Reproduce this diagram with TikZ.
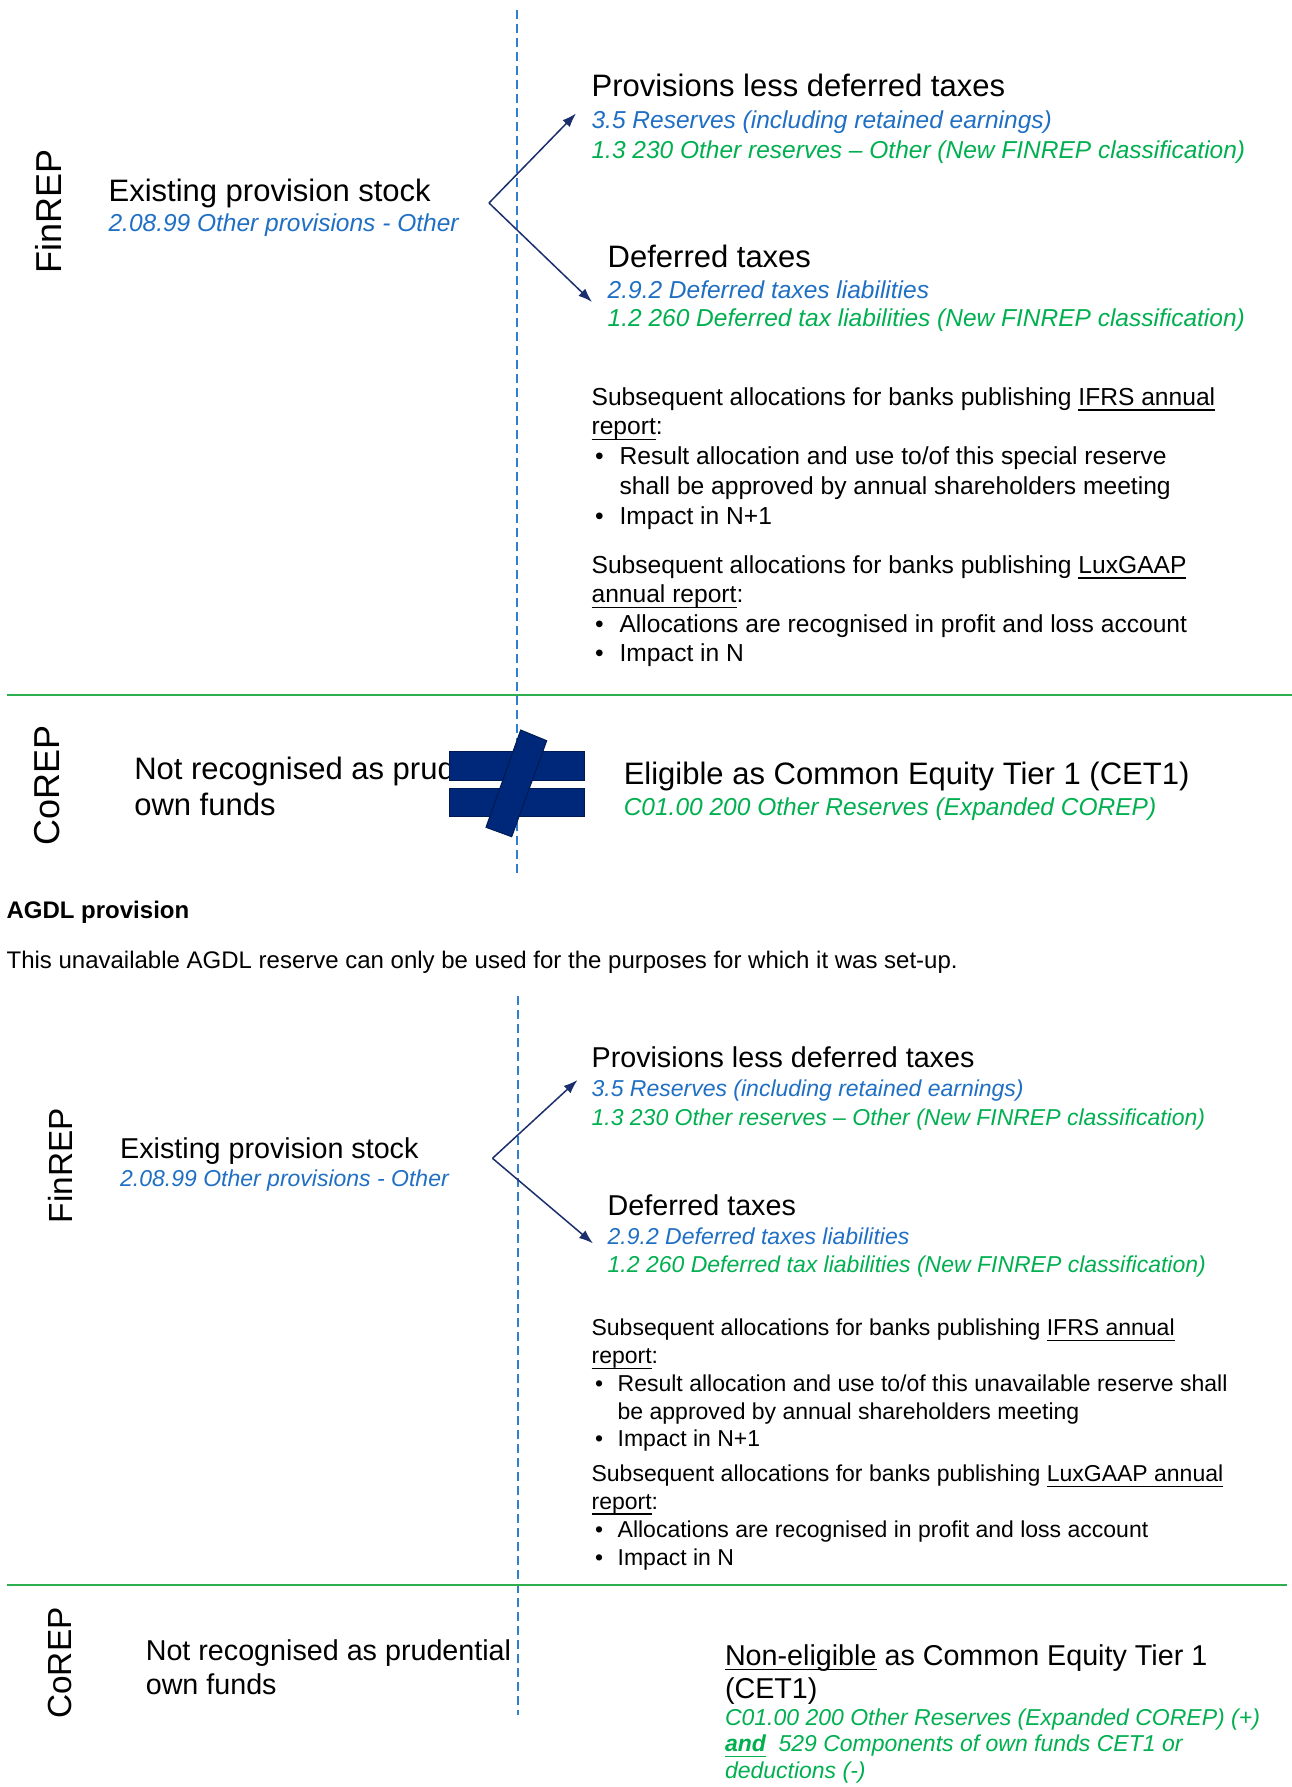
\documentclass[tikz,border=0pt]{standalone}
\usepackage{fontspec}
\setmainfont{Liberation Sans}
\usetikzlibrary{arrows.meta}
\definecolor{cblue}{HTML}{1F6FC4}
\definecolor{cgreen}{HTML}{00B050}
\definecolor{cline}{HTML}{2EAE4E}
\definecolor{cdash}{HTML}{2F7ED0}
\definecolor{carrow}{HTML}{1B2F6E}
\definecolor{cneq}{HTML}{00287A}
\definecolor{cneqb}{HTML}{001A52}
\newsavebox{\ulbox}
\newcommand{\undl}[1]{\sbox{\ulbox}{#1}\rlap{\rule[-5.4pt]{\wd\ulbox}{1.4pt}}\usebox{\ulbox}}
\newcommand{\bul}[1]{\hspace*{3.4pt}\makebox[#1][l]{•}}
\begin{document}
\begin{tikzpicture}[x=1pt,y=-1pt,
  t/.style={anchor=base west,inner sep=0pt,outer sep=0pt,align=left},
  fbig/.style={font=\fontsize{31}{37}\selectfont},
  fbigb/.style={font=\fontsize{28.7}{34}\selectfont},
  fsm/.style={font=\fontsize{24.5}{29.5}\selectfont\itshape},
  fsmb/.style={font=\fontsize{23}{26.6}\selectfont\itshape},
  side/.style={rotate=90,inner sep=0pt,outer sep=0pt,anchor=center},
  arr/.style={draw=carrow,line width=1.5pt,-{Latex[length=14pt,width=10pt]}},
  sepline/.style={draw=cline,line width=2pt},
  vdash/.style={draw=cdash,line width=1.6pt,dash pattern=on 9pt off 5pt},
  neqpart/.style={fill=cneq,draw=cneqb,line width=1pt},
]
\fill[white] (0,0) rectangle (1292,1787);
\useasboundingbox (0,0) rectangle (1292,1787);

% ---------- upper block ----------
\draw[vdash] (517,10) -- (517,877);

\node[side,font=\fontsize{36}{40}\selectfont] (finrepA) at (48.5,211.5) {FinREP};
\node[t,fbig] (existA) at (108.6,201.7) {Existing provision stock};
\node[t,fsm,text=cblue] (existcodeA) at (108.6,231.7) {2.08.99 Other provisions - Other};

\node[t,fbig] (provA) at (591.6,96.7) {Provisions less deferred taxes};
\node[t,fsm,text=cblue] (provcodeA) at (591.6,128.3) {3.5 Reserves (including retained earnings)};
\node[t,fsm,text=cgreen] (provnewA) at (591.6,158.3) {1.3 230 Other reserves – Other (New FINREP classification)};

\node[t,fbig] (defA) at (607.7,267.3) {Deferred taxes};
\node[t,fsm,text=cblue] (defcodeA) at (607.7,298.3) {2.9.2 Deferred taxes liabilities};
\node[t,fsm,text=cgreen] (defnewA) at (607.7,326.7) {1.2 260 Deferred tax liabilities (New FINREP classification)};

\coordinate (apexA) at (489,203);
\coordinate (tipA1) at (576,113.5);
\coordinate (tipA2) at (592,302);
\draw[arr] (apexA) -- (tipA1);
\draw[arr] (apexA) -- (tipA2);

% multi-line nodes: base anchor = baseline of the last line
\node[t,font=\fontsize{24.6}{29.8}\selectfont] (ifrsA) at (591.6,524.3)
  {Subsequent allocations for banks publishing \undl{IFRS annual}\\
   \undl{report}:\\
   \bul{24.6pt}Result allocation and use to/of this special reserve\\
   \hspace*{28pt}shall be approved by annual shareholders meeting\\
   \bul{24.6pt}Impact in N+1};
\node[t,font=\fontsize{24.6}{29.5}\selectfont] (luxA) at (591.6,661.7)
  {Subsequent allocations for banks publishing \undl{LuxGAAP}\\
   \undl{annual report}:\\
   \bul{24.6pt}Allocations are recognised in profit and loss account\\
   \bul{24.6pt}Impact in N};

\draw[sepline] (6.6,695) -- (1292,695);

\node[side,font=\fontsize{36}{40}\selectfont] (corepA) at (47.5,785) {CoREP};
\node[t,font=\fontsize{31}{35.7}\selectfont] (notrecA) at (134.3,815) {Not recognised as prudential\\own funds};

% not-equal sign
\path[neqpart] (449.3,751.7) rectangle (584,780);
\path[neqpart] (449.3,788.3) rectangle (584,816.7);
\path[neqpart] (520.7,730) -- (546.7,740.7) -- (511.7,836.7) -- (486,827.3) -- cycle;

\node[t,fbig] (eligA) at (623.8,784) {Eligible as Common Equity Tier 1 (CET1)};
\node[t,fsm,text=cgreen] (eligcodeA) at (623.8,815) {C01.00 200 Other Reserves (Expanded COREP)};

% ---------- heading ----------
\node[t,font=\fontsize{24}{29}\selectfont\bfseries] (agdl) at (6.6,918.3) {AGDL provision};
\node[t,font=\fontsize{24}{29}\selectfont] (agdltxt) at (6.6,968.3) {This unavailable AGDL reserve can only be used for the purposes for which it was set-up.};

% ---------- lower block ----------
\draw[vdash] (518,996) -- (518,1715);

\node[side,font=\fontsize{33.4}{38}\selectfont] (finrepB) at (60,1165.5) {FinREP};
\node[t,fbigb] (existB) at (120.2,1158.3) {Existing provision stock};
\node[t,fsmb,text=cblue] (existcodeB) at (120.2,1186.7) {2.08.99 Other provisions - Other};

\node[t,fbigb] (provB) at (591.6,1067.7) {Provisions less deferred taxes};
\node[t,fsmb,text=cblue] (provcodeB) at (591.6,1096.7) {3.5 Reserves (including retained earnings)};
\node[t,fsmb,text=cgreen] (provnewB) at (591.6,1125) {1.3 230 Other reserves – Other (New FINREP classification)};

\node[t,fbigb] (defB) at (607.7,1215) {Deferred taxes};
\node[t,fsmb,text=cblue] (defcodeB) at (607.7,1244) {2.9.2 Deferred taxes liabilities};
\node[t,fsmb,text=cgreen] (defnewB) at (607.7,1272.7) {1.2 260 Deferred tax liabilities (New FINREP classification)};

\coordinate (apexB) at (492.5,1158.3);
\coordinate (tipB1) at (577.5,1080);
\coordinate (tipB2) at (592.9,1243.3);
\draw[arr] (apexB) -- (tipB1);
\draw[arr] (apexB) -- (tipB2);

\node[t,font=\fontsize{23}{27.7}\selectfont] (ifrsB) at (591.6,1446.7)
  {Subsequent allocations for banks publishing \undl{IFRS annual}\\
   \undl{report}:\\
   \bul{22.7pt}Result allocation and use to/of this unavailable reserve shall\\
   \hspace*{26.1pt}be approved by annual shareholders meeting\\
   \bul{22.7pt}Impact in N+1};
\node[t,font=\fontsize{23}{27.8}\selectfont] (luxB) at (591.6,1565)
  {Subsequent allocations for banks publishing \undl{LuxGAAP annual}\\
   \undl{report}:\\
   \bul{22.7pt}Allocations are recognised in profit and loss account\\
   \bul{22.7pt}Impact in N};

\draw[sepline] (6.6,1584.5) -- (1287,1584.5);

\node[side,font=\fontsize{33.4}{38}\selectfont] (corepB) at (60,1663) {CoREP};
\node[t,font=\fontsize{28.7}{33.3}\selectfont] (notrecB) at (145.8,1694) {Not recognised as prudential\\own funds};

\node[t,font=\fontsize{28.7}{33}\selectfont] (eligB) at (725,1698) {\undl{Non-eligible} as Common Equity Tier 1\\(CET1)};
\node[t,fsmb,text=cgreen] (eligcodeB) at (725,1778.3)
  {C01.00 200 Other Reserves (Expanded COREP) (+)\\
   \textbf{\undl{and}}\hspace{0.55em}529 Components of own funds CET1 or\\
   deductions (-)};
\end{tikzpicture}
\end{document}
